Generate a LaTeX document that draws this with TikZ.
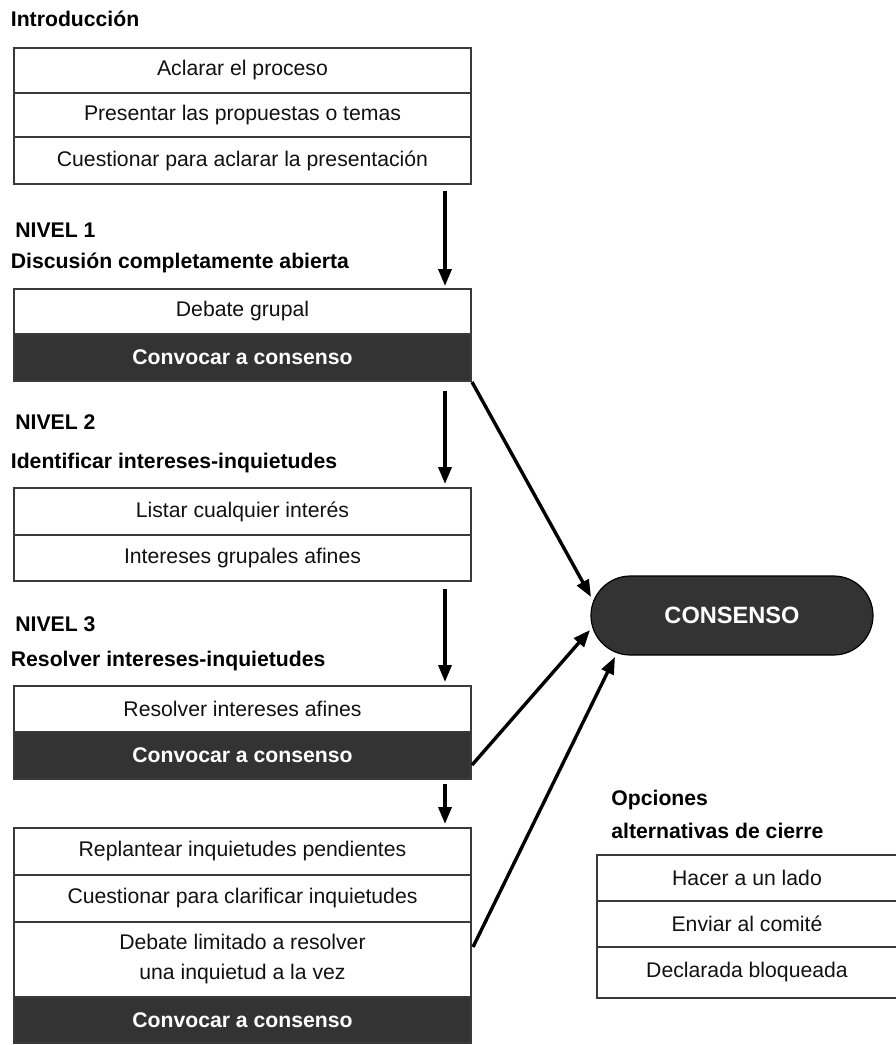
\documentclass[tikz,border=0pt]{standalone}
\usepackage{fontspec}
\setmainfont{Liberation Sans}
\usetikzlibrary{arrows.meta,calc,shapes.misc}

\definecolor{ink}{HTML}{111111}
\definecolor{darkrow}{HTML}{333333}
\definecolor{rule}{HTML}{3A3A3A}

\begin{document}
\begin{tikzpicture}[x=0.5pt,y=-0.5pt,
  row/.style={draw=rule, line width=1pt, fill=white, inner sep=0pt,
    minimum width=228.5pt, minimum height={0.5pt*#1}, align=center,
    font=\fontsize{10.6}{15}\selectfont, text=ink},
  hot/.style={row=#1, fill=darkrow, text=white,
    font=\fontsize{10.6}{15}\selectfont\bfseries},
  optrow/.style={row=#1, minimum width=150pt},
  heading/.style={anchor=base west, inner sep=0pt,
    font=\fontsize{10.6}{13}\selectfont\bfseries, text=black},
  pill/.style={rounded rectangle, draw=black, line width=0.6pt, fill=darkrow,
    text=white, minimum width=141pt, minimum height=39.5pt, inner sep=0pt,
    font=\fontsize{11.8}{13}\selectfont\bfseries},
  flow/.style={line width=1.7pt, -{Triangle[length=8.5pt,width=6.5pt]}},
]
\useasboundingbox (0,0) rectangle (895,1045);

% Introduction
\node[heading] (hIntro) at (10.5,26) {Introducción};
\node[row=45] (i1) at (242.5,70.5) {Aclarar el proceso};
\node[row=44] (i2) at (242.5,115) {Presentar las propuestas o temas};
\node[row=47] (i3) at (242.5,160.5) {Cuestionar para aclarar la presentación};

% Level 1
\node[heading] (hN1) at (15,237) {NIVEL 1};
\node[heading] (hN1b) at (10.5,268) {Discusión completamente abierta};
\node[row=45] (n1a) at (242.5,311.5) {Debate grupal};
\node[hot=47] (n1b) at (242.5,357.5) {Convocar a consenso};

% Level 2
\node[heading] (hN2) at (15,429) {NIVEL 2};
\node[heading] (hN2b) at (10.5,468) {Identificar intereses-inquietudes};
\node[row=47] (n2a) at (242.5,511.5) {Listar cualquier interés};
\node[row=46] (n2b) at (242.5,558) {Intereses grupales afines};

% Level 3
\node[heading] (hN3) at (15,631) {NIVEL 3};
\node[heading] (hN3b) at (10.5,666) {Resolver intereses-inquietudes};
\node[row=46] (n3a) at (242.5,709) {Resolver intereses afines};
\node[hot=47] (n3b) at (242.5,755.5) {Convocar a consenso};

% Remaining concerns
\node[row=47] (n4a) at (242.5,851.5) {Replantear inquietudes pendientes};
\node[row=47] (n4b) at (242.5,898.5) {Cuestionar para clarificar inquietudes};
\node[row=75] (n4c) at (242.5,959.5) {Debate limitado a resolver\\una inquietud a la vez};
\node[hot=46] (n4d) at (242.5,1020) {Convocar a consenso};

% Goal
\node[pill] (cons) at (732,615.5) {CONSENSO};

% Closing options
\node[heading] (hOpt) at (611,805) {Opciones};
\node[heading] (hOptb) at (611,838) {alternativas de cierre};
\node[optrow=46] (o1) at (747,878) {Hacer a un lado};
\node[optrow=46] (o2) at (747,924) {Enviar al comité};
\node[optrow=51] (o3) at (747,972.5) {Declarada bloqueada};

% Downward flow
\draw[flow] ($(i3.south east)+(-27,6)$) -- ($(n1a.north east)+(-27,-2)$);
\draw[flow] ($(n1b.south east)+(-27,9)$) -- ($(n2a.north east)+(-27,-3)$);
\draw[flow] ($(n2b.south east)+(-27,7)$) -- ($(n3a.north east)+(-27,-3)$);
\draw[flow] ($(n3b.south east)+(-27,4)$) -- ($(n4a.north east)+(-27,-3)$);

% Calls to consensus
\draw[flow] (n1b.south east) -- ($(cons.center)+(-141,-18.5)$);
\draw[flow] ($(n3b.east)+(0,9.5)$) -- ($(cons.center)+(-142,14.5)$);
\draw[flow] ($(n4c.east)+(1,-12.5)$) -- ($(cons.center)+(-117,41.5)$);
\end{tikzpicture}
\end{document}
